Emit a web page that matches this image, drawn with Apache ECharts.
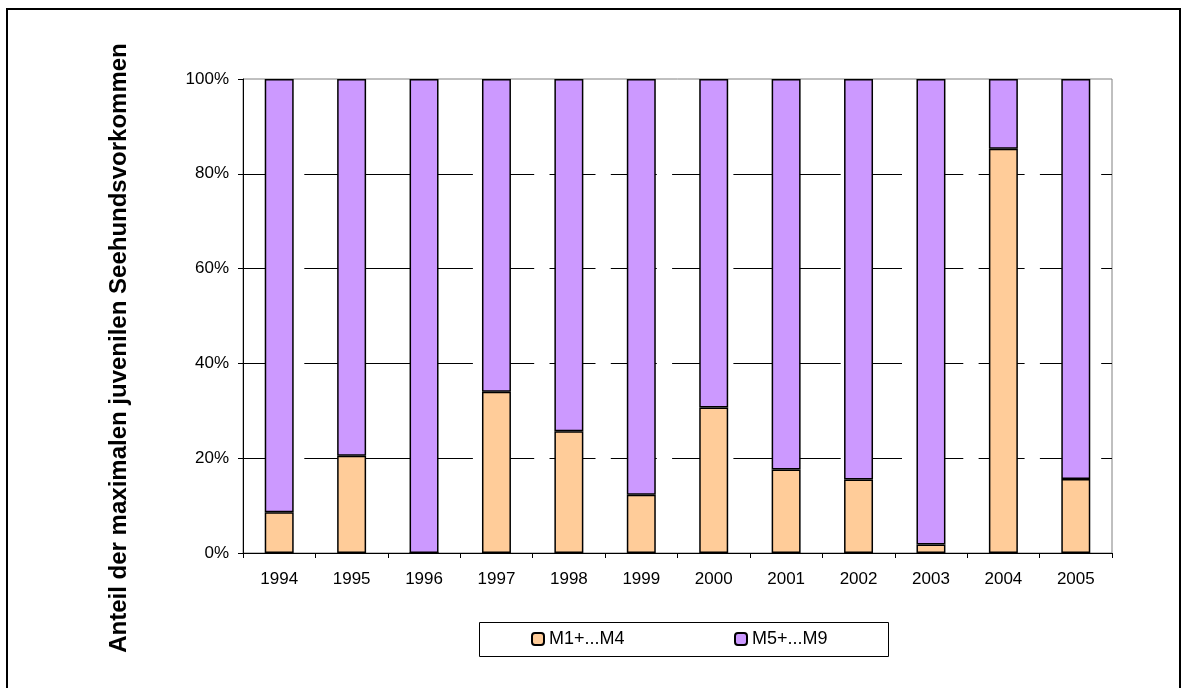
<!DOCTYPE html>
<html>
<head>
<meta charset="utf-8">
<script src="https://cdn.jsdelivr.net/npm/echarts@6/dist/echarts.min.js"></script>
<style>
html,body{margin:0;padding:0;background:#fff;}
#c{width:1181px;height:688px;}
</style>
</head>
<body>
<div id="c"></div>
<script>
const years = ['1994','1995','1996','1997','1998','1999','2000','2001','2002','2003','2004','2005'];
const m1to4 = [8.6, 20.5, 0, 34.0, 25.7, 12.3, 30.7, 17.6, 15.5, 1.8, 85.3, 15.6];
const m5to9 = [91.4, 79.5, 100, 66.0, 74.3, 87.7, 69.3, 82.4, 84.5, 98.2, 14.7, 84.4];
const seriesNames = ['M1+...M4', 'M5+...M9'];
const yTitle = 'Anteil der maximalen juvenilen Seehundsvorkommen';

const FONT = '"Liberation Sans", Arial, sans-serif';
const chart = echarts.init(document.getElementById('c'), null, {renderer: 'canvas'});
const legendCommon = {
  itemWidth: 12, itemHeight: 12, itemGap: 5,
  textStyle: {fontFamily: FONT, fontSize: 18, color: '#000'},
  padding: 0, top: 630
};
chart.setOption({
  animation: false,
  backgroundColor: '#fff',
  grid: {
    left: 243, top: 79, right: 69, bottom: 135,
    show: true, borderColor: '#808080', borderWidth: 1, backgroundColor: 'transparent'
  },
  legend: [
    Object.assign({data: [seriesNames[0]], left: 531}, legendCommon),
    Object.assign({data: [seriesNames[1]], left: 734}, legendCommon)
  ],
  xAxis: {
    type: 'category',
    data: years,
    axisLine: {lineStyle: {color: '#000', width: 1}},
    axisTick: {show: true, length: 5, lineStyle: {color: '#000'}},
    axisLabel: {fontFamily: FONT, fontSize: 17, color: '#000', margin: 18}
  },
  yAxis: {
    type: 'value',
    min: 0, max: 100, interval: 20,
    axisLine: {show: true, lineStyle: {color: '#000', width: 1}},
    axisTick: {show: true, length: 5, lineStyle: {color: '#000'}},
    axisLabel: {fontFamily: FONT, fontSize: 17, color: '#000', margin: 14, formatter: '{value}%'},
    splitLine: {
      show: true, showMinLine: false, showMaxLine: false,
      lineStyle: {color: '#000', width: 1, type: [46, 15.3], dashOffset: 0}
    }
  },
  series: [
    {
      name: seriesNames[0], type: 'bar', stack: 'a', data: m1to4, barWidth: '40%',
      itemStyle: {color: '#FFCC99', borderColor: '#000', borderWidth: 1.5}
    },
    {
      name: seriesNames[1], type: 'bar', stack: 'a', data: m5to9, barWidth: '40%',
      itemStyle: {color: '#CC99FF', borderColor: '#000', borderWidth: 1.5}
    }
  ],
  graphic: [
    {type: 'rect', shape: {x: 7, y: 9, width: 1173, height: 700}, style: {fill: 'none', stroke: '#000', lineWidth: 2}, silent: true},
    {type: 'rect', shape: {x: 479.5, y: 622.5, width: 409, height: 34}, style: {fill: 'none', stroke: '#000', lineWidth: 1}, silent: true, z: -1},
    {type: 'text', x: 119, y: 348, rotation: Math.PI / 2, silent: true,
     style: {text: yTitle, fontFamily: FONT, fontSize: 24, fontWeight: 'bold', fill: '#000', align: 'center', verticalAlign: 'middle'}}
  ]
});
</script>
</body>
</html>
